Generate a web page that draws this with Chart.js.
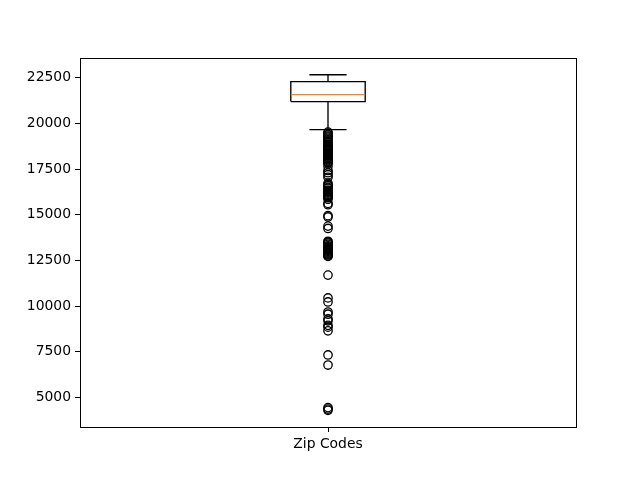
<!DOCTYPE html>
<html>
<head>
<meta charset="utf-8">
<script src="https://cdn.jsdelivr.net/npm/chart.js@4/dist/chart.umd.min.js"></script>
<style>
  html, body { margin: 0; padding: 0; background: #fff; }
  #wrap { width: 640px; height: 480px; }
</style>
</head>
<body>
<div id="wrap"><canvas id="c" width="640" height="480"></canvas></div>
<script>
// ---- data ----
const categories = ['Zip Codes'];
const boxStats = { whiskerLow: 19660, q1: 21190, median: 21570, q3: 22280, whiskerHigh: 22660 };
const outliers = [
  19520, 19450, 19380, 19300, 19250, 19180, 19100, 19020, 18950, 18870,
  18820, 18760, 18700, 18650, 18600, 18540, 18480, 18420, 18360, 18300,
  18250, 18210, 18160, 18120, 18060, 18010, 17960, 17900, 17860, 17820,
  17650, 17420, 17300, 17180, 17050,
  16720, 16650, 16580, 16500, 16450, 16350, 16300, 16230, 16180, 16120,
  16070, 16020, 15970, 15930, 15850, 15620, 15550,
  14950, 14880, 14380, 14250,
  13550, 13500, 13450, 13380, 13300, 13250, 13200, 13150, 13100, 13050,
  13000, 12950, 12900, 12850, 12800, 12750, 12720,
  11700,
  10450, 10230, 9680, 9560, 9300, 9200, 8950, 8850, 8650,
  7330, 6780,
  4450, 4370, 4300
];
const yTickValues = [5000, 7500, 10000, 12500, 15000, 17500, 20000, 22500];

// ---- layout constants (not data) ----
const POS = 1;          // box position on x axis
const HALF_BOX = 0.075; // half box width
const HALF_CAP = 0.0375;
const FONT = { family: 'DejaVu Sans', size: 13.9 };

const L = POS - HALF_BOX, R = POS + HALF_BOX;
const cL = POS - HALF_CAP, cR = POS + HALF_CAP;

function lineDS(points, color) {
  return {
    data: points, showLine: true, borderColor: color, borderWidth: 1.35,
    pointRadius: 0, pointHoverRadius: 0, fill: false, tension: 0
  };
}

const datasets = [
  {
    data: outliers.map(v => ({ x: POS, y: v })),
    showLine: false, pointStyle: 'circle', pointRadius: 4.2,
    pointBackgroundColor: 'rgba(0,0,0,0)', pointBorderColor: '#000', pointBorderWidth: 1.3
  },
  lineDS([{x: L, y: boxStats.median}, {x: R, y: boxStats.median}], '#ff7f0e'),
  lineDS([{x: L, y: boxStats.q1}, {x: R, y: boxStats.q1}, {x: R, y: boxStats.q3},
          {x: L, y: boxStats.q3}, {x: L, y: boxStats.q1}], '#000'),
  lineDS([{x: POS, y: boxStats.q1}, {x: POS, y: boxStats.whiskerLow}], '#000'),
  lineDS([{x: POS, y: boxStats.q3}, {x: POS, y: boxStats.whiskerHigh}], '#000'),
  lineDS([{x: cL, y: boxStats.whiskerLow}, {x: cR, y: boxStats.whiskerLow}], '#000'),
  lineDS([{x: cL, y: boxStats.whiskerHigh}, {x: cR, y: boxStats.whiskerHigh}], '#000')
];

const frame = {
  id: 'frame',
  afterDraw(chart) {
    const a = chart.chartArea, ctx = chart.ctx;
    ctx.save();
    ctx.strokeStyle = '#000';
    ctx.lineWidth = 1;
    ctx.strokeRect(Math.round(a.left) + 0.5, Math.round(a.top) + 0.5,
                   Math.round(a.right - a.left), Math.round(a.bottom - a.top));
    ctx.restore();
  }
};

new Chart(document.getElementById('c'), {
  type: 'scatter',
  data: { datasets },
  plugins: [frame],
  options: {
    responsive: false,
    animation: false,
    events: [],
    layout: { padding: { left: 0, right: 64, top: 58, bottom: 0 } },
    plugins: { legend: { display: false }, tooltip: { enabled: false } },
    scales: {
      x: {
        type: 'linear', min: 0.5, max: 1.5,
        afterBuildTicks(axis) { axis.ticks = [{ value: POS }]; },
        afterFit(axis) { axis.height = 53; },
        ticks: { callback: () => categories[0], color: '#000', font: FONT, padding: 4, maxRotation: 0 },
        grid: { display: true, drawOnChartArea: false, drawTicks: true, tickLength: 5, color: '#000', tickWidth: 1 },
        border: { display: false }
      },
      y: {
        type: 'linear', min: 3390, max: 23575,
        afterBuildTicks(axis) { axis.ticks = yTickValues.map(v => ({ value: v })); },
        afterFit(axis) { axis.width = 80; },
        ticks: { callback: v => String(v), color: '#000', font: FONT, padding: 4 },
        grid: { display: true, drawOnChartArea: false, drawTicks: true, tickLength: 5, color: '#000', tickWidth: 1 },
        border: { display: false }
      }
    }
  }
});
</script>
</body>
</html>
